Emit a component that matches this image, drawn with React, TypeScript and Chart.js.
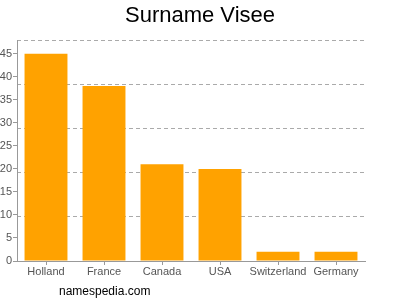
import React, { useEffect, useRef } from "react";
import { Chart, registerables } from "chart.js";

Chart.register(...registerables);

const categories = ["Holland", "France", "Canada", "USA", "Switzerland", "Germany"];
const counts = [45, 38, 21, 20, 2, 2];
const titleText = "Surname Visee";
const footerText = "namespedia.com";

const FONT = "'Liberation Sans', Arial, Helvetica, sans-serif";

const textPlugin = {
  id: "texts",
  afterDraw(chart: any) {
    const ctx = chart.ctx;
    ctx.save();
    ctx.fillStyle = "#000";
    ctx.textAlign = "center";
    ctx.textBaseline = "alphabetic";
    ctx.font = `22px ${FONT}`;
    ctx.fillText(titleText, 200, 22);
    ctx.textAlign = "left";
    ctx.font = `12px ${FONT}`;
    ctx.fillText(footerText, 59, 295);
    ctx.restore();
  },
};

export default function App() {
  const ref = useRef<HTMLCanvasElement>(null);
  useEffect(() => {
    if (!ref.current) return;
    const chart = new Chart(ref.current, {
      type: "bar",
      data: {
        labels: categories,
        datasets: [
          {
            data: counts,
            backgroundColor: "#ffa200",
            borderWidth: 0,
            barPercentage: 0.74,
            categoryPercentage: 1,
          },
        ],
      },
      options: {
        animation: false,
        responsive: false,
        maintainAspectRatio: false,
        layout: { padding: { top: 40, right: 35, left: 0, bottom: 0 } },
        plugins: { legend: { display: false }, title: { display: false }, tooltip: { enabled: false } },
        scales: {
          x: {
            offset: true,
            grid: { display: true, drawOnChartArea: false, offset: false, tickLength: 4, color: "#999" },
            border: { color: "#999" },
            ticks: { color: "#555", font: { family: FONT, size: 11 }, padding: 0, maxRotation: 0, autoSkip: false },
            afterFit: (s: any) => { s.height = 39; },
          },
          y: {
            min: 0,
            max: 48,
            position: "left",
            grid: { display: true, drawOnChartArea: false, tickLength: 4, color: "#999" },
            border: { color: "#999" },
            ticks: { stepSize: 5, includeBounds: false, color: "#555", font: { family: FONT, size: 11 }, padding: 1 },
            afterFit: (s: any) => { s.width = 17; },
          },
          y2: {
            min: 0,
            max: 48,
            position: "right",
            grid: {
              display: true,
              drawTicks: false,
              color: (c: any) => (c.tick && c.tick.value === 0 ? "rgba(0,0,0,0)" : "#aaa"),
            },
            border: { display: true, width: 0, color: "rgba(0,0,0,0)", dash: [4, 3] },
            ticks: { display: false, stepSize: 9.6 },
            afterFit: (s: any) => { s.width = 0; },
          },
        },
      } as any,
      plugins: [textPlugin],
    });
    return () => chart.destroy();
  }, []);
  return (
    <div style={{ position: "fixed", left: 0, top: 0, width: 400, height: 300, background: "#fff" }}>
      <canvas ref={ref} width={400} height={300} style={{ display: "block" }} />
    </div>
  );
}
